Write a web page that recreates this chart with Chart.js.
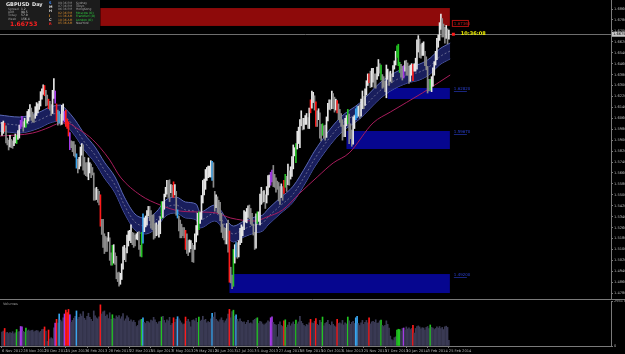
<!DOCTYPE html>
<html>
<head>
<meta charset="utf-8">
<script src="https://cdn.jsdelivr.net/npm/chart.js@4.4.1/dist/chart.umd.min.js"></script>
<style>
html, body { margin: 0; padding: 0; background: #000; }
#wrap { position: relative; width: 625px; height: 354px; overflow: hidden; background: #000; }
#priceChart { position: absolute; left: 0; top: 0; }
#volChart { position: absolute; left: 0; top: 300px; }
</style>
</head>
<body>
<div id="wrap">
  <canvas id="priceChart" width="625" height="300"></canvas>
  <canvas id="volChart" width="625" height="54"></canvas>
</div>
<script>
// GBPUSD daily bars, 6 Nov 2012 .. 25 Feb 2014 (bar index 0..336)
const barLow = [
  1.5935,1.5950,1.5965,1.5880,1.5865,1.5828,1.5850,1.5845,1.5840,1.5860,
  1.5880,1.5875,1.5905,1.5915,1.5985,1.6000,1.5965,1.5995,1.5995,1.6025,
  1.6040,1.6070,1.6045,1.6035,1.6030,1.6060,1.6080,1.6100,1.6125,1.6150,
  1.6200,1.6235,1.6225,1.6150,1.6155,1.6130,1.6120,1.6080,1.6095,1.6205,
  1.6170,1.6040,1.6010,1.6025,1.6010,1.6015,1.6045,1.6035,1.6000,1.5985,
  1.5930,1.5830,1.5845,1.5815,1.5785,1.5775,1.5695,1.5660,1.5690,1.5710,
  1.5790,1.5680,1.5650,1.5640,1.5635,1.5610,1.5660,1.5625,1.5645,1.5460,
  1.5460,1.5465,1.5445,1.5425,1.5270,1.5210,1.5115,1.5070,1.5085,1.5085,
  1.5160,1.5020,1.4985,1.4985,1.5000,1.4990,1.4885,1.4865,1.4831,1.4845,
  1.4880,1.4955,1.5025,1.5010,1.5075,1.5125,1.5165,1.5150,1.5135,1.5115,
  1.5125,1.5175,1.5170,1.5100,1.5050,1.5045,1.5145,1.5230,1.5265,1.5280,
  1.5345,1.5310,1.5255,1.5245,1.5175,1.5185,1.5200,1.5205,1.5190,1.5215,
  1.5325,1.5335,1.5395,1.5485,1.5505,1.5480,1.5450,1.5515,1.5485,1.5480,
  1.5500,1.5350,1.5330,1.5235,1.5185,1.5185,1.5200,1.5185,1.5100,1.5070,
  1.5055,1.5080,1.5105,1.5010,1.5005,1.5100,1.5155,1.5205,1.5245,1.5290,
  1.5320,1.5440,1.5500,1.5540,1.5605,1.5625,1.5630,1.5630,1.5605,1.5555,
  1.5380,1.5405,1.5370,1.5360,1.5310,1.5225,1.5185,1.5170,1.5140,1.5140,
  1.5080,1.4860,1.4855,1.4813,1.4830,1.5000,1.5045,1.5035,1.5045,1.5135,
  1.5150,1.5200,1.5245,1.5300,1.5295,1.5335,1.5325,1.5285,1.5275,1.5205,
  1.5100,1.5110,1.5290,1.5305,1.5280,1.5430,1.5440,1.5450,1.5400,1.5440,
  1.5500,1.5555,1.5570,1.5595,1.5560,1.5555,1.5520,1.5540,1.5455,1.5430,
  1.5480,1.5460,1.5510,1.5555,1.5525,1.5575,1.5570,1.5615,1.5635,1.5690,
  1.5785,1.5735,1.5835,1.5875,1.5845,1.6005,1.5975,1.5980,1.6015,1.6015,
  1.5985,1.5985,1.6100,1.6135,1.6175,1.6120,1.6000,1.6000,1.6050,1.5915,
  1.5895,1.5935,1.5915,1.5900,1.5920,1.6040,1.6125,1.6120,1.6130,1.6130,
  1.6105,1.6120,1.6100,1.6050,1.6030,1.6000,1.5900,1.5925,1.5925,1.6005,
  1.6020,1.5875,1.5910,1.5855,1.5870,1.5985,1.6050,1.6065,1.6075,1.6060,
  1.6075,1.6130,1.6130,1.6155,1.6230,1.6300,1.6320,1.6285,1.6290,1.6325,
  1.6285,1.6280,1.6345,1.6370,1.6390,1.6340,1.6280,1.6290,1.6255,1.6210,
  1.6345,1.6300,1.6330,1.6320,1.6365,1.6420,1.6450,1.6505,1.6445,1.6395,
  1.6365,1.6340,1.6355,1.6405,1.6375,1.6375,1.6315,1.6330,1.6375,1.6335,
  1.6405,1.6405,1.6420,1.6545,1.6505,1.6500,1.6520,1.6520,1.6445,1.6415,
  1.6245,1.6260,1.6265,1.6255,1.6295,1.6375,1.6450,1.6490,1.6580,1.6630,
  1.6710,1.6655,1.6655,1.6610,1.6645,1.6605,1.6640
];
const barHigh = [
  1.6030,1.6040,1.6025,1.6005,1.5915,1.5900,1.5935,1.5905,1.5895,1.5920,
  1.5945,1.5935,1.5970,1.6010,1.6045,1.6075,1.6035,1.6060,1.6045,1.6110,
  1.6125,1.6160,1.6135,1.6105,1.6085,1.6145,1.6175,1.6165,1.6185,1.6255,
  1.6275,1.6305,1.6300,1.6265,1.6230,1.6200,1.6185,1.6160,1.6265,1.6350,
  1.6260,1.6165,1.6120,1.6110,1.6090,1.6155,1.6165,1.6110,1.6120,1.6055,
  1.6035,1.5955,1.5895,1.5890,1.5890,1.5865,1.5800,1.5760,1.5775,1.5850,
  1.5875,1.5865,1.5775,1.5735,1.5735,1.5770,1.5735,1.5725,1.5700,1.5660,
  1.5545,1.5555,1.5540,1.5525,1.5500,1.5320,1.5320,1.5215,1.5195,1.5185,
  1.5225,1.5185,1.5075,1.5130,1.5135,1.5075,1.5050,1.4930,1.4935,1.4925,
  1.4995,1.5120,1.5130,1.5110,1.5205,1.5235,1.5240,1.5280,1.5225,1.5220,
  1.5205,1.5215,1.5225,1.5230,1.5130,1.5225,1.5360,1.5330,1.5345,1.5385,
  1.5415,1.5415,1.5385,1.5350,1.5355,1.5290,1.5295,1.5280,1.5310,1.5340,
  1.5450,1.5450,1.5505,1.5555,1.5605,1.5605,1.5610,1.5575,1.5570,1.5595,
  1.5575,1.5525,1.5390,1.5345,1.5315,1.5285,1.5260,1.5260,1.5240,1.5215,
  1.5165,1.5170,1.5165,1.5145,1.5130,1.5215,1.5275,1.5365,1.5375,1.5370,
  1.5495,1.5605,1.5615,1.5685,1.5700,1.5710,1.5710,1.5750,1.5745,1.5735,
  1.5525,1.5500,1.5485,1.5460,1.5445,1.5365,1.5285,1.5260,1.5255,1.5290,
  1.5315,1.5235,1.4970,1.4910,1.5100,1.5135,1.5150,1.5150,1.5165,1.5255,
  1.5280,1.5265,1.5385,1.5375,1.5400,1.5420,1.5425,1.5400,1.5365,1.5285,
  1.5225,1.5360,1.5375,1.5375,1.5505,1.5555,1.5525,1.5530,1.5500,1.5560,
  1.5640,1.5645,1.5665,1.5680,1.5715,1.5650,1.5625,1.5600,1.5590,1.5560,
  1.5580,1.5560,1.5605,1.5650,1.5635,1.5725,1.5675,1.5705,1.5780,1.5865,
  1.5845,1.5875,1.5965,1.5995,1.6050,1.6115,1.6060,1.6060,1.6080,1.6095,
  1.6065,1.6135,1.6195,1.6259,1.6250,1.6225,1.6180,1.6115,1.6130,1.6100,
  1.6015,1.6020,1.6005,1.6010,1.6070,1.6170,1.6195,1.6195,1.6260,1.6240,
  1.6215,1.6200,1.6190,1.6165,1.6125,1.6095,1.6050,1.6010,1.6060,1.6080,
  1.6125,1.6090,1.6020,1.5975,1.6070,1.6080,1.6130,1.6145,1.6150,1.6160,
  1.6200,1.6260,1.6220,1.6275,1.6335,1.6385,1.6385,1.6405,1.6425,1.6425,
  1.6385,1.6385,1.6435,1.6490,1.6460,1.6450,1.6380,1.6365,1.6330,1.6450,
  1.6420,1.6395,1.6405,1.6385,1.6445,1.6480,1.6550,1.6590,1.6602,1.6470,
  1.6455,1.6440,1.6445,1.6480,1.6485,1.6465,1.6440,1.6450,1.6460,1.6455,
  1.6460,1.6500,1.6635,1.6665,1.6640,1.6600,1.6610,1.6620,1.6550,1.6510,
  1.6440,1.6345,1.6345,1.6365,1.6430,1.6475,1.6550,1.6645,1.6670,1.6760,
  1.6822,1.6790,1.6750,1.6725,1.6740,1.6715,1.6705
];
const volumes = [
  9200,9800,11500,8600,9000,8200,8800,8400,9400,8000,
  8700,10800,9100,9500,12800,12500,9600,9000,11800,9900,
  10500,9700,10200,10400,9300,9800,10200,9900,8800,9600,
  10800,11000,12500,9800,3000,10500,4600,5400,4800,12000,
  15000,17500,15000,21000,17000,16000,18500,21000,23500,22000,
  24000,20500,15500,16800,18200,19500,23000,17500,18800,21000,
  19600,22500,18200,17000,19500,21500,18800,17500,16200,23000,
  19800,18500,17800,19200,27000,21000,22400,23000,19500,20500,
  18000,21800,17500,20500,18200,17600,19800,18800,20000,17800,
  19200,21200,16500,17800,19800,18600,16200,17200,15800,16800,
  15500,12800,13500,16500,17200,17500,18500,15500,14800,16200,
  15900,15200,17000,16500,18800,17200,15500,14500,15800,16200,
  19000,19500,16800,15200,17200,16500,18800,13500,14800,18500,
  15600,17500,19200,17800,16500,15200,14000,14500,19000,16200,
  17500,15800,12500,16800,17200,16500,18200,15500,19000,16200,
  17000,19500,16800,17500,15200,16000,15500,17800,21500,19000,
  22000,17500,16500,15800,17200,18500,16800,15200,16500,17800,
  21000,24000,18500,22500,23500,19500,20500,17500,16000,17800,
  16200,15500,15800,14200,15500,16800,14800,15200,14500,16800,
  17500,18000,18500,14800,16200,15800,14500,13800,14500,15200,
  16500,15800,18500,19200,15500,14200,13800,6000,14200,15800,
  13500,12800,16500,17200,12200,13800,15500,13200,14500,15800,
  14200,17000,14500,15800,19500,16200,14800,13500,12800,14200,
  13800,15200,17500,15200,14800,16200,18000,14200,13500,16800,
  15500,19000,13200,14800,15500,16800,14200,13500,15800,14200,
  13200,12500,17500,14800,15200,14500,16800,13800,15200,14500,
  19000,16500,14200,15500,16200,14800,18500,19500,14800,13500,
  15200,16800,14200,15500,16800,15200,18500,14500,15800,16200,
  15500,17200,14800,15200,16500,17000,13500,12800,13500,16500,
  14200,11800,6500,4200,3500,5500,6000,10500,11000,10800,
  9800,11500,11800,10500,12500,11200,12000,10800,11500,13500,
  8500,11500,12800,13200,12500,11200,12000,11800,10500,12200,
  12800,11500,13800,12200,11800,10800,11500,12500,11800,12800,
  11500,12200,10800,12500,13000,12200,3800
];

// bars flagged by the volume indicator
const redBars = [2, 32, 35, 41, 48, 49, 50, 74, 129, 138, 171, 212, 232, 236, 252, 276, 309];
const greenBars = [11, 18, 83, 105, 120, 148, 174, 192, 213, 221, 241, 260, 285, 297, 298, 299, 322];
const blueBars = [43, 56, 106, 132, 158, 176, 266, 267];
const purpleBars = [14, 15, 40, 47, 51, 202, 203, 302];

// envelope band (centre line read at these bar indexes)
const bandIdx = [-2, 13, 28, 36, 44, 48, 55, 62, 70, 77, 85, 92, 100, 108, 116, 123, 131, 138, 146, 149, 160, 174, 182, 190, 196, 200, 209, 219, 229, 235, 254, 269, 284, 292, 305, 314, 322, 329, 337];
const bandMid = [1.6026, 1.6011, 1.6047, 1.6084, 1.6099, 1.6069, 1.5989, 1.5886, 1.5791, 1.5681, 1.5572, 1.5425, 1.5301, 1.5272, 1.5316, 1.5403, 1.5425, 1.5389, 1.5374, 1.5316, 1.5367, 1.5213, 1.5250, 1.5279, 1.5294, 1.5337, 1.5418, 1.5506, 1.5660, 1.5762, 1.6004, 1.6114, 1.6260, 1.6318, 1.6377, 1.6399, 1.6443, 1.6509, 1.6553];
const bandHalf = 0.0058;

// slow moving average
const maIdx = [-2, 23, 36, 41, 49, 56, 66, 74, 81, 89, 104, 119, 134, 149, 161, 172, 190, 199, 211, 224, 237, 249, 261, 279, 292, 316, 337];
const maVal = [1.5930, 1.5952, 1.5996, 1.6018, 1.6026, 1.5989, 1.5923, 1.5843, 1.5755, 1.5630, 1.5498, 1.5425, 1.5381, 1.5374, 1.5367, 1.5330, 1.5308, 1.5337, 1.5389, 1.5513, 1.5630, 1.5733, 1.5806, 1.6026, 1.6106, 1.6245, 1.6377];

// supply / demand zones
const zoneKind = ['supply', 'demand', 'demand', 'demand'];
const zoneStart = [74, 290, 259, 171];
const zoneEnd = 336;
const zoneTop = [1.6867, 1.6282, 1.5967, 1.4920];
const zoneBottom = [1.6736, 1.6201, 1.5835, 1.4781];

const lastPrice = 1.66753;
const timerText = '10:36:08';

const priceTicks = [1.6860, 1.6780, 1.6700, 1.6620, 1.6540, 1.6460, 1.6380, 1.6300, 1.6220, 1.6140, 1.6060, 1.5980, 1.5900, 1.5820, 1.5740, 1.5660, 1.5580, 1.5500, 1.5420, 1.5340, 1.5260, 1.5180, 1.5100, 1.5020, 1.4940, 1.4860, 1.4780];
const dateLabels = ['6 Nov 2012', '28 Nov 2012', '20 Dec 2012', '15 Jan 2013', '6 Feb 2013', '28 Feb 2013', '22 Mar 2013', '15 Apr 2013', '7 May 2013', '29 May 2013', '20 Jun 2013', '12 Jul 2013', '5 Aug 2013', '27 Aug 2013', '18 Sep 2013', '10 Oct 2013', '1 Nov 2013', '25 Nov 2013', '17 Dec 2013', '10 Jan 2014', '3 Feb 2014', '25 Feb 2014'];
const volMax = 29517;

const sessions = [
  ['09:36 PM', 'Sydney'], ['07:36 PM', 'Tokyo'], ['06:36 PM', 'HongKong'],
  ['02:36 PM', 'Moscow (O)'], ['11:36 AM', 'Frankfurt (O)'], ['10:36 AM', 'London (O)'], ['05:36 AM', 'NewYork']
];
const infoRows = [['Spread', '1.2'], ['ADR', '98.5'], ['Today', '57.0'], ['Week', '156.4']];

// ---- layout ----
const xMin = -1.5, xMax = 457.9;
const priceMax = 1.69259, priceMin = 1.47299;
const FONT = '"DejaVu Sans", sans-serif';

function flagColor(i, up, down) {
  if (redBars.includes(i)) return '#ff1a1a';
  if (greenBars.includes(i)) return '#22c422';
  if (blueBars.includes(i)) return '#39a6f0';
  if (purpleBars.includes(i)) return '#a43ae6';
  return null;
}

const candles = barLow.map((lo, i) => ({ x: i, y: [lo, barHigh[i]] }));
const candleColors = barLow.map((lo, i) => {
  const c = flagColor(i);
  if (c) return c;
  const mid = (lo + barHigh[i]) / 2;
  const prev = i ? (barLow[i - 1] + barHigh[i - 1]) / 2 : mid;
  return mid >= prev ? '#e6e6e6' : '#8a8a8a';
});
const volBars = volumes.map((v, i) => ({ x: i, y: v }));
const volColors = volumes.map((v, i) => flagColor(i) || '#3a3a54');

const bandUpper = bandIdx.map((b, i) => ({ x: b, y: bandMid[i] + bandHalf }));
const bandLower = bandIdx.map((b, i) => ({ x: b, y: bandMid[i] - bandHalf }));
const bandCentre = bandIdx.map((b, i) => ({ x: b, y: bandMid[i] }));
const maLine = maIdx.map((b, i) => ({ x: b, y: maVal[i] }));

function noPad(s) { s.paddingTop = 0; s.paddingBottom = 0; s.paddingLeft = 0; s.paddingRight = 0; }

const overlayPlugin = {
  id: 'overlay',
  beforeDatasetsDraw(chart) {
    const { ctx, scales: { x, y } } = chart;
    ctx.save();
    zoneTop.forEach((t, i) => {
      const x0 = x.getPixelForValue(zoneStart[i]);
      const x1 = x.getPixelForValue(zoneEnd) + 1;
      const y0 = y.getPixelForValue(t);
      const y1 = y.getPixelForValue(zoneBottom[i]);
      ctx.fillStyle = zoneKind[i] === 'supply' ? '#8e0a0a' : '#06068f';
      ctx.fillRect(x0, y0, x1 - x0, y1 - y0);
    });
    // bid line
    const py = Math.round(y.getPixelForValue(lastPrice)) + 0.5;
    ctx.strokeStyle = '#6e6e6e';
    ctx.lineWidth = 1;
    ctx.beginPath(); ctx.moveTo(0, py); ctx.lineTo(chart.chartArea.right, py); ctx.stroke();
    ctx.restore();
  },
  afterDatasetsDraw(chart) {
    const { ctx, scales: { x, y } } = chart;
    ctx.save();
    const xe = x.getPixelForValue(zoneEnd);
    ctx.font = '4px ' + FONT;
    ctx.textBaseline = 'middle';
    zoneTop.forEach((t, i) => {
      if (zoneKind[i] === 'supply') {
        const yy = y.getPixelForValue(zoneBottom[i]) - 2;
        ctx.strokeStyle = '#b01010';
        ctx.lineWidth = 1;
        ctx.strokeRect(xe + 3.5, yy - 3.5, 16, 6);
        ctx.fillStyle = '#c01818';
        ctx.fillText(zoneBottom[i].toFixed(5), xe + 5, yy);
      } else {
        const yy = y.getPixelForValue(t) + 1;
        ctx.fillStyle = '#2a3fd0';
        ctx.fillText(t.toFixed(5), xe + 5, yy);
        ctx.fillRect(xe + 5, yy + 2.2, 13, 0.6);
      }
    });
    // price marker and timer
    const py = y.getPixelForValue(lastPrice);
    ctx.fillStyle = '#ff1a1a';
    ctx.fillRect(xe + 3, py - 1.5, 3, 3);
    ctx.fillStyle = '#f0f000';
    ctx.font = 'bold 5px ' + FONT;
    ctx.fillText(timerText, xe + 12, py - 1);
    ctx.restore();
  },
  afterDraw(chart) {
    const { ctx, scales: { y } } = chart;
    ctx.save();
    // current price label on the axis
    const py = y.getPixelForValue(lastPrice);
    ctx.fillStyle = '#c8c8c8';
    ctx.fillRect(chart.chartArea.right + 1, py - 2.5, 14, 5);
    ctx.fillStyle = '#000';
    ctx.font = '3.6px ' + FONT;
    ctx.textBaseline = 'middle';
    ctx.fillText(lastPrice.toFixed(5), chart.chartArea.right + 2, py + 0.2);
    // separator between panels
    ctx.strokeStyle = '#7a7a7a';
    ctx.beginPath(); ctx.moveTo(0, 299.5); ctx.lineTo(625, 299.5); ctx.stroke();
    // info panel
    ctx.fillStyle = '#1c1c1c';
    ctx.fillRect(0, 0, 100, 30);
    ctx.fillStyle = '#e8e8e8';
    ctx.font = 'bold 5px ' + FONT;
    ctx.fillText('GBPUSD', 6, 4.5);
    ctx.fillText('Day', 32, 4.5);
    ctx.font = '3px ' + FONT;
    infoRows.forEach((r, i) => {
      ctx.fillStyle = '#9a9a9a';
      ctx.fillText(r[0], 8, 9.5 + i * 3.1);
      ctx.fillStyle = '#d0d0d0';
      ctx.fillText(r[1], 21, 9.5 + i * 3.1);
    });
    ctx.fillStyle = '#ff2020';
    ctx.font = 'bold 6px ' + FONT;
    ctx.fillText(lastPrice.toFixed(5), 10, 24);
    const letters = ['S', 'M', 'H', 'I', 'C', 'R'];
    const letterCol = ['#3a8cff', '#d8d8d8', '#d8d8d8', '#e08a20', '#d8d8d8', '#ff2020'];
    ctx.font = 'bold 3.5px ' + FONT;
    letters.forEach((l, i) => { ctx.fillStyle = letterCol[i]; ctx.fillText(l, 49, 3 + i * 4.2); });
    ctx.font = '3px ' + FONT;
    sessions.forEach((s, i) => {
      const open = s[1].includes('(O)');
      ctx.fillStyle = i < 3 ? '#9a9a9a' : '#d88a2a';
      ctx.fillText(s[0], 58, 2.8 + i * 3.4);
      ctx.fillStyle = open ? '#2fd040' : '#a8a8a8';
      ctx.fillText(s[1], 76, 2.8 + i * 3.4);
    });
    ctx.restore();
  }
};

new Chart(document.getElementById('priceChart'), {
  type: 'bar',
  data: {
    datasets: [
      { type: 'line', data: bandUpper, borderColor: '#5a68b4', borderWidth: 1, backgroundColor: 'rgba(30,36,112,0.82)', fill: '+1', pointRadius: 0, cubicInterpolationMode: 'monotone', order: 6 },
      { type: 'line', data: bandLower, borderColor: '#5a68b4', borderWidth: 1, fill: false, pointRadius: 0, cubicInterpolationMode: 'monotone', order: 6 },
      { type: 'line', data: bandCentre, borderColor: '#8a8aa6', borderWidth: 0.7, borderDash: [2, 2], fill: false, pointRadius: 0, cubicInterpolationMode: 'monotone', order: 5 },
      { type: 'line', data: maLine, borderColor: '#a81c5c', borderWidth: 1, fill: false, pointRadius: 0, cubicInterpolationMode: 'monotone', order: 4 },
      { type: 'bar', data: candles, backgroundColor: candleColors, barThickness: 1, order: 1 }
    ]
  },
  options: {
    responsive: false,
    animation: false,
    devicePixelRatio: 1,
    layout: { padding: 0 },
    plugins: { legend: { display: false }, tooltip: { enabled: false } },
    scales: {
      x: { type: 'linear', min: xMin, max: xMax, offset: false, display: false, grid: { offset: false } },
      y: {
        position: 'right', min: priceMin, max: priceMax,
        afterBuildTicks: s => { s.ticks = priceTicks.map(v => ({ value: v })); },
        afterFit: s => { s.width = 14; noPad(s); },
        ticks: { color: '#b4b4b4', font: { size: 3.6, family: FONT }, padding: 1, autoSkip: false, callback: v => v.toFixed(5) },
        grid: { drawOnChartArea: false, drawTicks: true, tickLength: 2, color: '#7a7a7a' },
        border: { color: '#7a7a7a' }
      }
    }
  },
  plugins: [overlayPlugin]
});

const volPlugin = {
  id: 'volText',
  afterDraw(chart) {
    const ctx = chart.ctx;
    ctx.save();
    ctx.fillStyle = '#9a9a9a';
    ctx.font = '3.5px ' + FONT;
    ctx.textBaseline = 'middle';
    ctx.fillText('Volumes', 3, 4);
    ctx.restore();
  }
};

new Chart(document.getElementById('volChart'), {
  type: 'bar',
  data: {
    datasets: [
      { data: volBars, backgroundColor: volColors, barThickness: 1 }
    ]
  },
  options: {
    responsive: false,
    animation: false,
    devicePixelRatio: 1,
    layout: { padding: { top: 1 } },
    plugins: { legend: { display: false }, tooltip: { enabled: false } },
    scales: {
      x: {
        type: 'linear', min: xMin, max: xMax, offset: false,
        afterBuildTicks: s => { s.ticks = dateLabels.map((d, i) => ({ value: i * 16 })); },
        afterFit: s => { s.height = 8; noPad(s); },
        ticks: { color: '#b4b4b4', font: { size: 3.6, family: FONT }, align: 'start', padding: 1, maxRotation: 0, autoSkip: false, callback: v => dateLabels[Math.round(v / 16)] },
        grid: { drawOnChartArea: false, drawTicks: true, tickLength: 2, color: '#7a7a7a', offset: false },
        border: { color: '#7a7a7a' }
      },
      y: {
        position: 'right', min: 0, max: volMax,
        afterBuildTicks: s => { s.ticks = [{ value: volMax }, { value: 0 }]; },
        afterFit: s => { s.width = 14; noPad(s); },
        ticks: { color: '#b4b4b4', font: { size: 3.6, family: FONT }, padding: 1, autoSkip: false, callback: v => String(v) },
        grid: { drawOnChartArea: false, drawTicks: true, tickLength: 2, color: '#7a7a7a' },
        border: { color: '#7a7a7a' }
      }
    }
  },
  plugins: [volPlugin]
});
</script>
</body>
</html>
